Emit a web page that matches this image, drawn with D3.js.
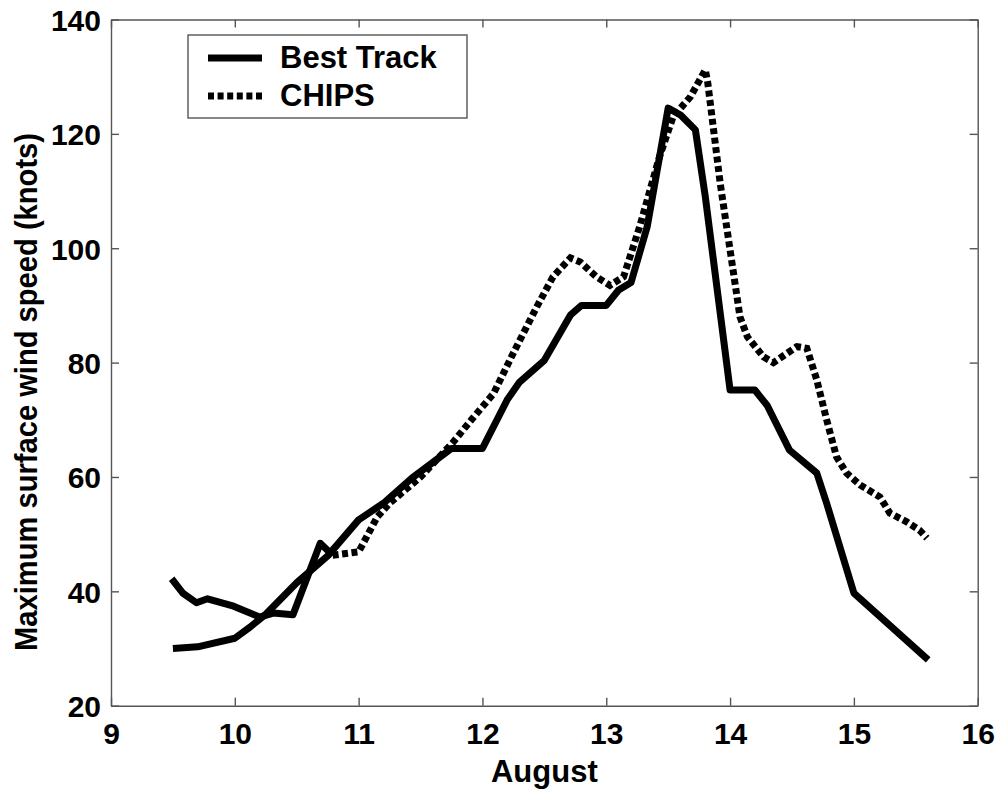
<!DOCTYPE html>
<html>
<head>
<meta charset="utf-8">
<script src="https://cdn.jsdelivr.net/npm/d3@7"></script>
<style>
  body { margin: 0; background: #fff; }
  text { font-family: "Liberation Sans", Arial, sans-serif; font-weight: bold; fill: #000; }
</style>
</head>
<body>
<div id="chart"></div>
<script>
// data (day of August, knots)
var bestTrackDay = [9.5, 9.7, 10.0, 10.12, 10.25, 10.5, 10.75, 11.0, 11.2, 11.43, 11.75, 12.0, 12.2, 12.3, 12.5, 12.71, 12.8, 13.0, 13.1, 13.2, 13.33, 13.5, 13.6, 13.72, 13.8, 14.0, 14.2, 14.3, 14.48, 14.7, 14.78, 15.0, 15.6];
var bestTrackKnots = [30, 30.3, 31.8, 33.7, 36, 41.5, 46.2, 52.5, 55.4, 59.8, 65, 65, 73.5, 76.6, 80.4, 88.3, 90, 90, 92.7, 94, 103.7, 124.5, 123.3, 120.7, 109, 75.2, 75.2, 72.5, 64.7, 60.7, 55.4, 39.7, 28];

var chipsDay = [9.49, 9.58, 9.69, 9.78, 9.99, 10.2, 10.31, 10.47, 10.69, 10.79, 11.0, 11.15, 11.25, 11.5, 11.76, 11.93, 12.09, 12.25, 12.44, 12.57, 12.71, 12.79, 12.92, 13.03, 13.14, 13.27, 13.43, 13.54, 13.68, 13.8, 13.82, 13.92, 14.0, 14.08, 14.14, 14.27, 14.35, 14.54, 14.62, 14.7, 14.78, 14.86, 14.94, 15.05, 15.21, 15.29, 15.43, 15.53, 15.59];
var chipsKnots = [42.2, 39.7, 38, 38.7, 37.4, 35.5, 36.2, 35.9, 48.4, 46.3, 46.9, 53, 55.4, 60, 66, 70.5, 74.6, 81.7, 89.8, 95, 98.3, 97.6, 95, 93.5, 95, 103.8, 116, 123, 126.5, 131.2, 128.9, 111.4, 99.7, 88, 84.5, 81, 80, 82.8, 82.5, 77, 70, 63.5, 60.7, 58.6, 56.5, 53.7, 52.1, 50.7, 49.3];
// the early CHIPS points are so dense the dots merge into a solid stroke
var chipsSolidEnd = 9;

var xTicks = [9, 10, 11, 12, 13, 14, 15, 16];
var yTicks = [20, 40, 60, 80, 100, 120, 140];
var seriesNames = ["Best Track", "CHIPS"];

var margin = { top: 19.5, right: 24.3, bottom: 88.3, left: 111 },
    width = 1002 - margin.left - margin.right,
    height = 794 - margin.top - margin.bottom;

var svg = d3.select("#chart").append("svg")
    .attr("width", 1002)
    .attr("height", 794)
    .append("g")
    .attr("transform", "translate(" + margin.left + "," + margin.top + ")");

var x = d3.scaleLinear().domain([9, 16]).range([0, width]);
var y = d3.scaleLinear().domain([20, 140]).range([height, 0]);

var axisColor = "#555";
var fmt = d3.format("d");

// bottom axis with labels, ticks pointing inward
svg.append("g")
    .attr("transform", "translate(0," + height + ")")
    .call(d3.axisBottom(x).tickValues(xTicks).tickFormat(fmt).tickSizeInner(-8).tickSizeOuter(0).tickPadding(17))
    .call(function (g) {
        g.selectAll("text").style("font-size", "30px").attr("dy", "0.71em");
    });

// left axis with labels
svg.append("g")
    .call(d3.axisLeft(y).tickValues(yTicks).tickFormat(fmt).tickSizeInner(-8).tickSizeOuter(0).tickPadding(10))
    .call(function (g) {
        g.selectAll("text").style("font-size", "30px").attr("dy", "0.36em");
    });

// top and right: ticks only
svg.append("g")
    .call(d3.axisTop(x).tickValues(xTicks).tickSizeInner(-8).tickSizeOuter(0).tickFormat(""));
svg.append("g")
    .attr("transform", "translate(" + width + ",0)")
    .call(d3.axisRight(y).tickValues(yTicks).tickSizeInner(-8).tickSizeOuter(0).tickFormat(""));

svg.selectAll(".domain, .tick line")
    .attr("stroke", axisColor)
    .attr("stroke-width", 1.4);

// series
var bestTrack = bestTrackDay.map(function (d, i) { return { day: d, knots: bestTrackKnots[i] }; });
var chips = chipsDay.map(function (d, i) { return { day: d, knots: chipsKnots[i] }; });

var line = d3.line()
    .x(function (d) { return x(d.day); })
    .y(function (d) { return y(d.knots); });

svg.append("path")
    .attr("d", line(chips.slice(0, chipsSolidEnd + 1)))
    .attr("fill", "none")
    .attr("stroke", "#000")
    .attr("stroke-width", 7)
    .attr("stroke-linejoin", "round");

svg.append("path")
    .attr("d", line(chips.slice(chipsSolidEnd)))
    .attr("fill", "none")
    .attr("stroke", "#000")
    .attr("stroke-width", 7)
    .attr("stroke-dasharray", "6,3.5");

svg.append("path")
    .attr("d", line(bestTrack))
    .attr("fill", "none")
    .attr("stroke", "#000")
    .attr("stroke-width", 7)
    .attr("stroke-linejoin", "round");

// axis titles
svg.append("text")
    .attr("x", width / 2)
    .attr("y", 782 - margin.top)
    .style("text-anchor", "middle")
    .style("font-size", "31px")
    .text("August");

svg.append("text")
    .attr("transform", "translate(" + (37 - margin.left) + "," + (392 - margin.top) + ") rotate(-90)")
    .style("text-anchor", "middle")
    .style("font-size", "32px")
    .attr("textLength", 518)
    .attr("lengthAdjust", "spacingAndGlyphs")
    .text("Maximum surface wind speed (knots)");

// legend
var legend = svg.append("g")
    .attr("transform", "translate(" + (188 - margin.left) + "," + (35 - margin.top) + ")");

legend.append("rect")
    .attr("width", 279)
    .attr("height", 83)
    .attr("fill", "#fff")
    .attr("stroke", axisColor)
    .attr("stroke-width", 1.4);

var legendItem = legend.selectAll(".legend-item")
    .data(seriesNames)
    .enter()
    .append("g")
    .attr("class", "legend-item")
    .attr("transform", function (d, i) { return "translate(0," + (23 + i * 38) + ")"; });

legendItem.append("line")
    .attr("x1", 20)
    .attr("x2", 74)
    .attr("stroke", "#000")
    .attr("stroke-width", 7)
    .attr("stroke-dasharray", function (d, i) { return i === 1 ? "6,3.6" : null; });

legendItem.append("text")
    .attr("x", 92)
    .attr("y", 10)
    .style("font-size", "31px")
    .text(function (d) { return d; });
</script>
</body>
</html>
